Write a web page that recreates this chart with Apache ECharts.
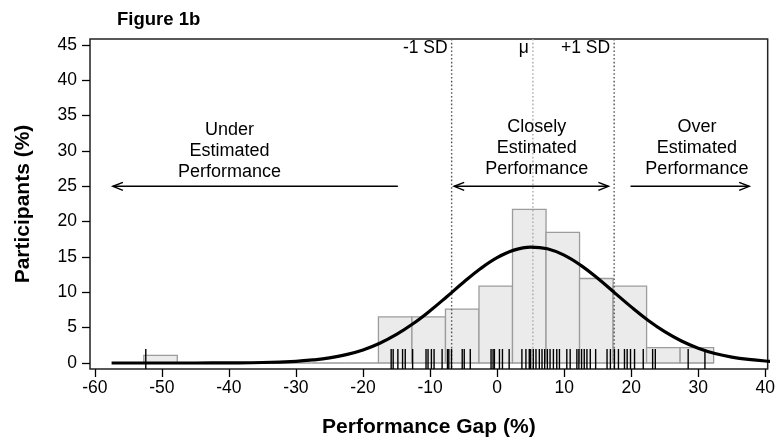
<!DOCTYPE html>
<html>
<head>
<meta charset="utf-8">
<script src="https://cdn.jsdelivr.net/npm/echarts@6/dist/echarts.min.js"></script>
<style>
  html, body { margin: 0; padding: 0; background: #fff; }
  #chart { width: 778px; height: 444px; }
</style>
</head>
<body>
<div id="chart"></div>
<script>
// 直方图：每个箱的起点（宽 5），参与者百分比
const binStarts = [-52.7, -47.7, -42.7, -37.7, -32.7, -27.7, -22.7, -17.7, -12.7, -7.7, -2.7, 2.3, 7.3, 12.3, 17.3, 22.3, 27.3];
const binValues = [1.09, 0, 0, 0, 0, 0, 0, 6.52, 6.52, 7.61, 10.87, 21.74, 18.48, 11.96, 10.87, 2.17, 2.17];
const binWidth = 5;

// 正态曲线（从图上读出的点）
const curveX = [-57.5, -50, -45, -40, -35, -30, -27.5, -25, -22.5, -20, -17.5, -15, -12.5, -10, -7.5, -5, -2.5, 0, 2.5, 5, 7.5, 10, 12.5, 15, 17.5, 20, 22.5, 25, 27.5, 30, 32.5, 35, 37.5, 40, 42.5];
const curveY = [0, 0, 0, 0.02, 0.07, 0.24, 0.43, 0.72, 1.19, 1.85, 2.8, 4.04, 5.58, 7.39, 9.38, 11.42, 13.33, 14.9, 15.97, 16.41, 16.17, 15.26, 13.81, 11.98, 9.96, 7.94, 6.06, 4.44, 3.12, 2.1, 1.35, 0.84, 0.5, 0.28, 0.16];

// 地毯图（个体值）
const rugValues = [-52.4, -15.8, -15.5, -14.8, -14.1, -13.7, -12.6, -10.6, -10.3, -9.8, -9.4, -8.2, -7.4, -7.2, -6.8, -5.2, -4.9, -4.0,
  -0.9, -0.6, -0.4, 0.35, 0.8, 1.8, 3.7, 4.3, 4.8, 5.0, 5.4, 5.8, 6.3, 6.7, 7.1, 7.5, 7.9, 8.4, 8.9, 9.3, 10.4, 10.9,
  11.9, 12.2, 12.6, 13.0, 13.4, 13.9, 14.7, 16.4, 16.9, 17.5, 18.1, 19.0, 19.4, 19.9, 20.5, 21.8, 23.2, 23.6, 28.5, 31.0];

// 均值和 ±1 SD 参考线
const refX = [-6.78, 5.34, 17.46];
const refLabels = ['-1 SD', 'μ', '+1 SD'];
const refColors = ['#555', '#aaa', '#555'];

// 箭头：起点、终点、y、起点箭头、终点箭头
const arrowFrom = [-57.3, -6.4, 19.9];
const arrowTo = [-14.8, 16.6, 37.6];
const arrowY = [25, 25, 25];
const arrowHeads = [[1, 0], [1, 1], [0, 1]];

// 注释文字
const annoX = [-39.9, 5.9, 29.8];
const annoY = [30.0, 30.4, 30.4];
const annoText = ['Under\nEstimated\nPerformance', 'Closely\nEstimated\nPerformance', 'Over\nEstimated\nPerformance'];

const xTicks = [-60, -50, -40, -30, -20, -10, 0, 10, 20, 30, 40];
const yTicks = [0, 5, 10, 15, 20, 25, 30, 35, 40, 45];

const FONT = 'Liberation Sans, Arial, Helvetica, sans-serif';
const chart = echarts.init(document.getElementById('chart'));

chart.setOption({
  animation: false,
  title: {
    text: 'Figure 1b',
    left: 112,
    top: 5,
    textStyle: { fontFamily: FONT, fontSize: 18.5, fontWeight: 'bold', color: '#000' },
  },
  grid: {
    left: 90, right: 4, top: 39, bottom: 75,
    show: true, borderColor: '#222', borderWidth: 1.5, backgroundColor: 'transparent',
  },
  xAxis: {
    type: 'value',
    min: -60.72,
    max: 40.36,
    name: 'Performance Gap (%)',
    nameLocation: 'middle',
    nameGap: 48,
    nameTextStyle: { fontFamily: FONT, fontSize: 21, fontWeight: 'bold', color: '#000' },
    axisLine: { show: false, onZero: false },
    axisTick: { show: true, length: 8, customValues: xTicks, lineStyle: { color: '#000', width: 1.3 } },
    axisLabel: { customValues: xTicks, margin: 10, fontFamily: FONT, fontSize: 17.5, color: '#000' },
    splitLine: { show: false },
  },
  yAxis: {
    type: 'value',
    min: -0.85,
    max: 45.85,
    name: 'Participants (%)',
    nameLocation: 'middle',
    nameGap: 56,
    nameTextStyle: { fontFamily: FONT, fontSize: 21, fontWeight: 'bold', color: '#000' },
    axisLine: { show: false, onZero: false },
    axisTick: { show: true, length: 8, customValues: yTicks, lineStyle: { color: '#000', width: 1.3 } },
    axisLabel: { customValues: yTicks, margin: 13, fontFamily: FONT, fontSize: 17.5, color: '#000' },
    splitLine: { show: false },
  },
  series: [
    {
      // 直方图
      type: 'custom',
      z: 1,
      encode: { x: [0, 1], y: 2 },
      data: binStarts.map((s, i) => [s, s + binWidth, binValues[i]]),
      renderItem(params, api) {
        const p0 = api.coord([api.value(0), api.value(2)]);
        const p1 = api.coord([api.value(1), 0]);
        return {
          type: 'rect',
          shape: { x: p0[0], y: p0[1], width: p1[0] - p0[0], height: p1[1] - p0[1] },
          style: { fill: '#ebebeb', stroke: '#9c9c9c', lineWidth: 1.3 },
        };
      },
    },
    {
      // 参考线
      type: 'custom',
      z: 2,
      encode: { x: 0 },
      data: refX.map((v, i) => [v, i]),
      renderItem(params, api) {
        const cs = params.coordSys;
        const i = api.value(1);
        const x = api.coord([api.value(0), 0])[0];
        return {
          type: 'group',
          children: [
            {
              type: 'line',
              shape: { x1: x, y1: cs.y, x2: x, y2: cs.y + cs.height },
              style: { stroke: refColors[i], lineWidth: 1.4, lineDash: [1.6, 2.2] },
            },
            {
              type: 'text',
              style: {
                text: refLabels[i], x: x - 4, y: cs.y + 9,
                align: 'right', verticalAlign: 'middle',
                fontFamily: FONT, fontSize: 17.5, fill: '#000',
              },
            },
          ],
        };
      },
    },
    {
      // 地毯图
      type: 'custom',
      z: 3,
      encode: { x: 0, y: 1 },
      data: rugValues.map(v => [v, -0.85]),
      renderItem(params, api) {
        const p = api.coord([api.value(0), api.value(1)]);
        return {
          type: 'line',
          shape: { x1: p[0], y1: p[1], x2: p[0], y2: p[1] - 20 },
          style: { stroke: '#000', lineWidth: 1.4 },
        };
      },
    },
    {
      // 正态曲线
      type: 'line',
      z: 4,
      smooth: 0.4,
      symbol: 'none',
      clip: true,
      data: curveX.map((x, i) => [x, curveY[i]]),
      lineStyle: { color: '#000', width: 3.2 },
    },
    {
      // 箭头
      type: 'custom',
      z: 5,
      encode: { x: [0, 1], y: 2 },
      data: arrowFrom.map((a, i) => [a, arrowTo[i], arrowY[i], arrowHeads[i][0], arrowHeads[i][1]]),
      renderItem(params, api) {
        const a = api.coord([api.value(0), api.value(2)]);
        const b = api.coord([api.value(1), api.value(2)]);
        const st = { stroke: '#000', lineWidth: 1.5, fill: null };
        const children = [{ type: 'line', shape: { x1: a[0], y1: a[1], x2: b[0], y2: b[1] }, style: st }];
        if (api.value(3)) {
          children.push({ type: 'polyline', shape: { points: [[a[0] + 10, a[1] - 4], [a[0], a[1]], [a[0] + 10, a[1] + 4]] }, style: st });
        }
        if (api.value(4)) {
          children.push({ type: 'polyline', shape: { points: [[b[0] - 10, b[1] - 4], [b[0], b[1]], [b[0] - 10, b[1] + 4]] }, style: st });
        }
        return { type: 'group', children };
      },
    },
    {
      // 注释文字
      type: 'custom',
      z: 6,
      encode: { x: 0, y: 1 },
      data: annoX.map((x, i) => [x, annoY[i], i]),
      renderItem(params, api) {
        const p = api.coord([api.value(0), api.value(1)]);
        return {
          type: 'text',
          style: {
            text: annoText[api.value(2)], x: p[0], y: p[1],
            align: 'center', verticalAlign: 'middle', lineHeight: 21,
            fontFamily: FONT, fontSize: 18, fill: '#000',
          },
        };
      },
    },
  ],
});
</script>
</body>
</html>
